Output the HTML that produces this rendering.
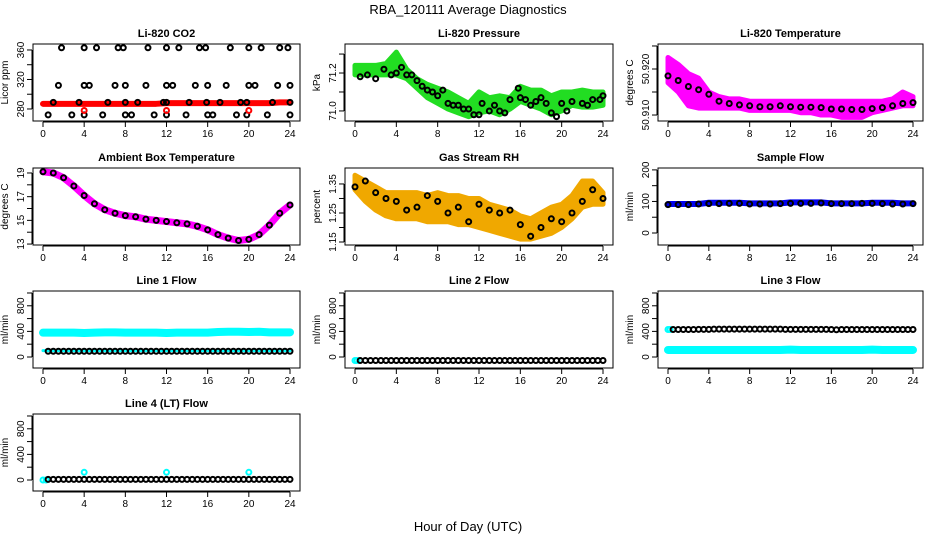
<!DOCTYPE html>
<html><head><meta charset="utf-8"><style>
html,body{margin:0;padding:0;background:#fff}
svg{display:block;font-family:"Liberation Sans",sans-serif}
</style></head><body>
<svg id="c" width="936" height="540" viewBox="0 0 936 540" xmlns="http://www.w3.org/2000/svg">
<rect width="936" height="540" fill="#fff"/>
<text x="468" y="14" font-size="13" text-anchor="middle">RBA_120111  Average Diagnostics</text>
<text x="468" y="531" font-size="13" text-anchor="middle">Hour of Day (UTC)</text>
</svg>
<script>
const xTicks=[0,4,8,12,16,20,24];
const hours=[0,1,2,3,4,5,6,7,8,9,10,11,12,13,14,15,16,17,18,19,20,21,22,23,24];
const halfHours=[0.5,1,1.5,2,2.5,3,3.5,4,4.5,5,5.5,6,6.5,7,7.5,8,8.5,9,9.5,10,10.5,11,11.5,12,12.5,13,13.5,14,14.5,15,15.5,16,16.5,17,17.5,18,18.5,19,19.5,20,20.5,21,21.5,22,22.5,23,23.5,24];
// CO2
const co2Band=[287,287,287,287,287,287,287,287,287,287,287,287,288,288,288,288,288,288,288,288,288,288,288,289,289];
const co2Hours=[1.8,4,5.2,7.3,7.8,10.2,12,13.2,15.2,15.8,18.2,20,21.2,23,23.8, 1.5,4,4.5,7,8,10,12,12.6,14.8,16,17.8,20,20.6,22.8,24, 1,3.5,6.3,8,9.2,11.7,12,14.2,15.9,17.2,19.2,19.8,22.3,24, 0.5,2.8,4,5.8,8,8.6,10.8,12,13.9,16,16.5,18.8,19.8,21.8,24];
const co2Values=[363,363,363,363,363,363,363,363,363,363,363,363,363,363,363, 312,312,312,312,312,312,312,312,312,312,312,312,312,312,312, 289,289,289,289,289,289,289,289,289,289,289,289,289,289, 272,272,272,272,272,272,272,272,272,272,272,272,272,272,272];
const co2RedHours=[4,12,20];
const co2RedValues=[278,278,278];
// Pressure
const presUpper=[71.24,71.24,71.24,71.25,71.31,71.22,71.17,71.14,71.12,71.10,71.07,71.04,71.10,71.07,71.08,71.07,71.13,71.11,71.11,71.08,71.10,71.10,71.11,71.10,71.10];
const presLower=[71.19,71.19,71.19,71.19,71.19,71.17,71.12,71.07,71.04,71.01,70.99,70.97,70.99,71.00,70.98,71.01,71.05,71.03,71.01,70.98,71.00,71.03,71.02,71.02,71.03];
const presCircleH=[0.5,1.2,2,2.8,3.5,4,4.5,5,5.5,6,6.5,7,7.5,8,8.5,9,9.5,10,10.5,11,11.5,12,12.3,13,13.5,14,14.5,15,15.8,16,16.5,17,17.5,18,18.5,19,19.5,20,20.5,21,22,22.5,23,23.7,24];
const presCircleV=[71.18,71.19,71.17,71.22,71.19,71.2,71.23,71.19,71.19,71.16,71.13,71.11,71.1,71.08,71.11,71.04,71.03,71.03,71.01,71.01,70.98,70.98,71.04,71.0,71.03,71.0,70.99,71.06,71.12,71.07,71.06,71.03,71.05,71.07,71.04,70.99,70.97,71.04,71.0,71.05,71.04,71.03,71.06,71.06,71.08];
// Li-820 temperature
const tempUpper=[50.9225,50.921,50.919,50.918,50.915,50.914,50.9135,50.9135,50.913,50.913,50.913,50.913,50.913,50.913,50.913,50.913,50.913,50.913,50.913,50.913,50.913,50.913,50.9135,50.915,50.914];
const tempLower=[50.917,50.915,50.912,50.9115,50.9115,50.9115,50.9115,50.9115,50.911,50.911,50.911,50.911,50.911,50.9105,50.9105,50.910,50.910,50.9095,50.9095,50.9095,50.9105,50.911,50.9115,50.912,50.912];
const tempCircles=[50.9185,50.9175,50.9162,50.9155,50.9145,50.9130,50.9125,50.9122,50.9120,50.9118,50.9118,50.9120,50.9118,50.9117,50.9117,50.9116,50.9113,50.9113,50.9112,50.9112,50.9114,50.9116,50.9120,50.9125,50.9127];
// Ambient box temperature
const ambient=[19.1,19.0,18.6,17.9,17.1,16.4,15.9,15.6,15.4,15.3,15.1,15.0,14.9,14.8,14.7,14.5,14.2,13.8,13.5,13.3,13.4,13.8,14.6,15.6,16.3];
// RH
const rhUpper=[1.38,1.36,1.34,1.32,1.32,1.32,1.32,1.31,1.32,1.31,1.31,1.30,1.30,1.28,1.27,1.26,1.24,1.23,1.25,1.27,1.28,1.31,1.36,1.36,1.32];
const rhLower=[1.33,1.29,1.26,1.24,1.23,1.23,1.23,1.22,1.22,1.22,1.21,1.21,1.20,1.19,1.18,1.17,1.16,1.16,1.17,1.18,1.20,1.23,1.27,1.28,1.28];
const rhCircles=[1.34,1.36,1.32,1.30,1.29,1.26,1.27,1.31,1.29,1.25,1.27,1.22,1.28,1.26,1.25,1.26,1.21,1.17,1.20,1.23,1.22,1.25,1.29,1.33,1.30];
// Sample flow
const sampleBand=[92,92,92,92,96,96,96,96,94,94,94,94,97,97,97,97,94,94,94,94,96,96,96,94,94];
const sampleCircles=[90,90,90,92,93,93,94,94,92,92,92,93,94,94,94,95,93,93,93,94,94,93,92,92,93];
// Line flows
const line1Cyan=[380,380,380,380,375,380,385,385,380,380,380,380,375,380,380,380,380,390,395,395,390,395,385,385,385];
const line1Low=[100,100,100,100,100,100,100,100,100,100,100,100,100,100,100,100,100,100,100,100,100,100,100,100,100];
const line1Black=[90,90,90,90,90,90,90,90,90,90,90,90,90,90,90,90,90,90,90,90,90,90,90,90,90,90,90,90,90,90,90,90,90,90,90,90,90,90,90,90,90,90,90,90,90,90,90,90];
const line2Black=[-55,-55,-55,-55,-55,-55,-55,-55,-55,-55,-55,-55,-55,-55,-55,-55,-55,-55,-55,-55,-55,-55,-55,-55,-55,-55,-55,-55,-55,-55,-55,-55,-55,-55,-55,-55,-55,-55,-55,-55,-55,-55,-55,-55,-55,-55,-55,-55];
const line3Black=[430,430,430,430,430,432,432,432,435,435,435,435,435,435,435,435,435,435,435,435,435,435,432,432,432,432,432,432,432,432,432,430,425,430,430,430,430,430,430,430,430,430,430,430,430,430,430,430];
const line3Low=[110,110,110,110,110,110,110,110,110,110,110,110,115,110,110,110,110,110,110,110,115,110,110,110,110];
const line4Black=[10,10,10,10,10,10,10,10,10,10,10,10,10,10,10,10,10,10,10,10,10,10,10,10,10,10,10,10,10,10,10,10,10,10,10,10,10,10,10,10,10,10,10,10,10,10,10,10];
const line4CyanH=[0,0.3,4,12,20];
const line4CyanV=[0,0,120,120,120];

const NS="http://www.w3.org/2000/svg";
const svg=document.getElementById('c');
const colX0=[43,355,668], colPx=[247/24,248/24,245/24], rowTop=[44,168,291,414];
function mk(tag,attrs,parent){const e=document.createElementNS(NS,tag);for(const k in attrs)e.setAttribute(k,attrs[k]);(parent||svg).appendChild(e);return e;}
function fmt(v,dec){return dec>0?v.toFixed(dec):String(v);}
function panel(name,col,row,title,ylab,ylim,yTicks,yLabels,dec){
  const g=mk('g',{});
  
  
  const x0=colX0[col],px=colPx[col],top=rowTop[row],h=77;
  const left=x0-10,right=x0+24*px+10;
  const X=v=>x0+v*px;
  const Y=v=>top+h-(v-ylim[0])/(ylim[1]-ylim[0])*h;
  const t=mk('text',{x:(left+right)/2,y:top-7,'font-size':11,'font-weight':'bold','text-anchor':'middle'},g);
  t.textContent=title;
  
  
  const plot=mk('g',{},g);
  
  
  const ax=mk('g',{stroke:'#000','stroke-width':1},g);
  
  
  mk('line',{x1:X(0),x2:X(24),y1:top+h+1,y2:top+h+1},ax);
  xTicks.forEach(v=>{
    mk('line',{x1:X(v),x2:X(v),y1:top+h+1,y2:top+h+6},ax);
    const l=mk('text',{x:X(v),y:top+h+16,'font-size':10,'text-anchor':'middle',stroke:'none'},ax);
    l.textContent=v;
    
    
  });
  const ay=mk('g',{stroke:'#000','stroke-width':1},g);
  
  
  mk('line',{x1:left-1,x2:left-1,y1:Y(yTicks[0]),y2:Y(yTicks[yTicks.length-1])},ay);
  yTicks.forEach(v=>{
    mk('line',{x1:left-6,x2:left-1,y1:Y(v),y2:Y(v)},ay);
    if(yLabels.indexOf(v)>=0){
      const tx=left-9,ty=Y(v);
      const l=mk('text',{x:tx,y:ty,'font-size':10,'text-anchor':'middle',stroke:'none',transform:`rotate(-90 ${tx} ${ty})`},ay);
      l.textContent=fmt(v,dec);
      
      
    }
  });
  const yx=left-25,yy=top+h/2;
  const yl=mk('text',{x:yx,y:yy,'font-size':10,'text-anchor':'middle',transform:`rotate(-90 ${yx} ${yy})`},g);
  yl.textContent=ylab;
  
  
  mk('rect',{x:left,y:top,width:right-left,height:h,fill:'none',stroke:'#000','stroke-width':1},g);
  return {X,Y,g:plot};
}
function circles(p,hs,vs,color,name,r){
  hs.forEach((hh,i)=>{
    const c=mk('circle',{cx:p.X(hh),cy:p.Y(vs[i]),r:r||2.5,fill:'none',stroke:color,'stroke-width':2},p.g);
    
    
  });
}
function band(p,hs,vs,color,w,name){
  const l=mk('polyline',{points:hs.map((hh,i)=>p.X(hh)+','+p.Y(vs[i])).join(' '),fill:'none',stroke:color,'stroke-width':w,'stroke-linecap':'round','stroke-linejoin':'round'},p.g);
  
  
}
function area(p,hs,up,lo,color,name){
  const pts=hs.map((hh,i)=>p.X(hh)+','+p.Y(up[i])).concat(hs.slice().reverse().map((hh,j)=>p.X(hh)+','+p.Y(lo[hs.length-1-j])));
  const a=mk('polygon',{points:pts.join(' '),fill:color,stroke:color,'stroke-width':5,'stroke-linejoin':'round'},p.g);
  
  
}
let p=panel('co2',0,0,'Li-820 CO2','Licor ppm',[263.7,368.1],[280,300,320,340,360],[280,320,360],0);
band(p,hours,co2Band,'#ff0000',6,'co2-band');
circles(p,co2Hours,co2Values,'#000','co2-point');
circles(p,co2RedHours,co2RedValues,'#ff0000','co2-red-point');

p=panel('pressure',1,0,'Li-820 Pressure','kPa',[70.947,71.353],[71.0,71.1,71.2,71.3],[71.0,71.2],1);
area(p,hours,presUpper,presLower,'#22dd22','pressure-cloud');
circles(p,presCircleH,presCircleV,'#000','pressure-point');

p=panel('li820-temp',2,0,'Li-820 Temperature','degrees C',[50.9087,50.92543],[50.910,50.915,50.920,50.925],[50.910,50.920],3);
area(p,hours,tempUpper,tempLower,'#ff00ff','temp-cloud');
circles(p,hours,tempCircles,'#000','temp-point');

p=panel('ambient',0,1,'Ambient Box Temperature','degrees C',[12.92,19.42],[13,14,15,16,17,18,19],[13,15,17,19],0);
band(p,hours,ambient,'#ff00ff',7,'ambient-band');
circles(p,hours,ambient,'#000','ambient-point');

p=panel('rh',1,1,'Gas Stream RH','percent',[1.1397,1.405],[1.15,1.20,1.25,1.30,1.35],[1.15,1.25,1.35],2);
area(p,hours,rhUpper,rhLower,'#f0a800','rh-cloud');
circles(p,hours,rhCircles,'#000','rh-point');

p=panel('sample-flow',2,1,'Sample Flow','ml/min',[-38,206],[0,50,100,150,200],[0,100,200],0);
band(p,hours,sampleBand,'#0000ee',6,'sample-band');
circles(p,hours,sampleCircles,'#000','sample-point');

p=panel('line1',0,2,'Line 1 Flow','ml/min',[-172,1031],[0,200,400,600,800,1000],[0,400,800],0);
band(p,hours,line1Cyan,'#00ffff',8,'line1-cyan-band');
band(p,hours,line1Low,'#00ffff',3,'line1-cyan-low');
circles(p,halfHours,line1Black,'#000','line1-point');

p=panel('line2',1,2,'Line 2 Flow','ml/min',[-172,1031],[0,200,400,600,800,1000],[0,400,800],0);
circles(p,[0,0.2],[-55,-55],'#00ffff','line2-cyan-point');
circles(p,halfHours,line2Black,'#000','line2-point');

p=panel('line3',2,2,'Line 3 Flow','ml/min',[-172,1031],[0,200,400,600,800,1000],[0,400,800],0);
band(p,hours,line3Low,'#00ffff',8,'line3-cyan-low');
circles(p,[0,0.2],[430,430],'#00ffff','line3-cyan-point');
circles(p,halfHours,line3Black,'#000','line3-point');

p=panel('line4',0,3,'Line 4 (LT) Flow','ml/min',[-172,1031],[0,200,400,600,800,1000],[0,400,800],0);
circles(p,line4CyanH,line4CyanV,'#00ffff','line4-cyan-point');
circles(p,halfHours,line4Black,'#000','line4-point');
</script>
</body></html>
